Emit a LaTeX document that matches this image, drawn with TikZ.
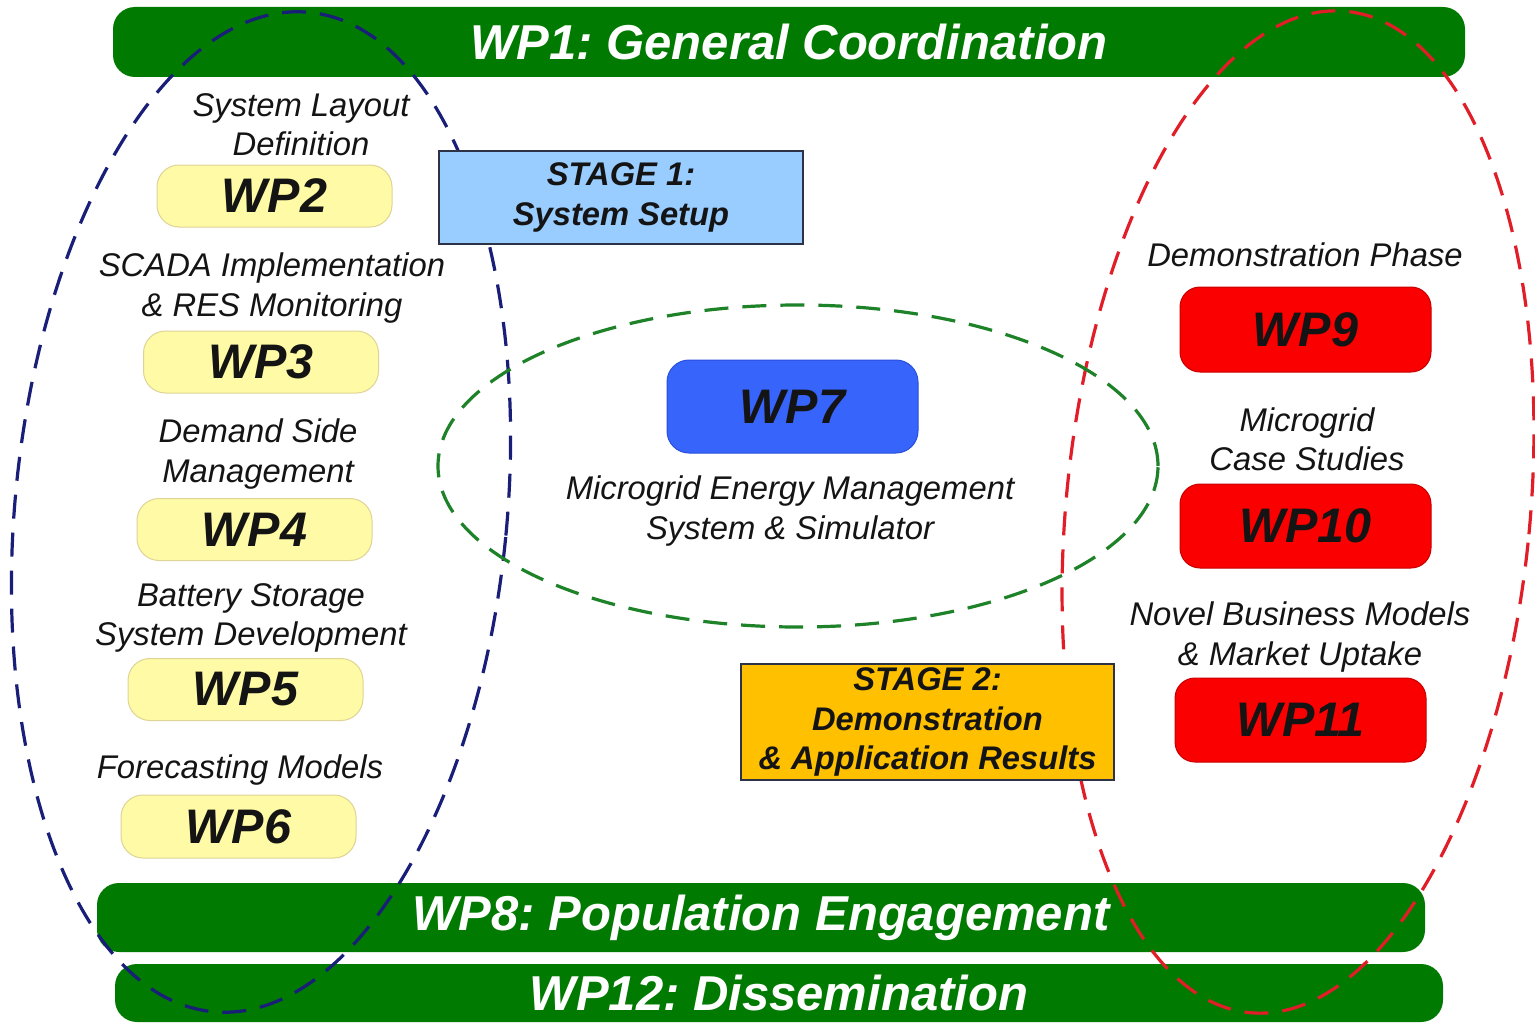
\documentclass[tikz,border=0pt]{standalone}
\usepackage{fontspec}
\setmainfont{Liberation Sans}
\frenchspacing
\definecolor{barg}{RGB}{0,122,0}
\definecolor{ylw}{RGB}{255,250,165}
\definecolor{ylwb}{RGB}{222,212,150}
\definecolor{redf}{RGB}{250,0,0}
\definecolor{redb}{RGB}{200,0,0}
\definecolor{wpblue}{RGB}{55,100,250}
\definecolor{wpblueb}{RGB}{40,80,220}
\definecolor{stageblue}{RGB}{153,204,255}
\definecolor{stageamber}{RGB}{255,192,0}
\definecolor{stageb}{RGB}{45,50,70}
\definecolor{ellblue}{RGB}{25,30,120}
\definecolor{ellred}{RGB}{225,30,40}
\definecolor{ellgreen}{RGB}{30,130,40}
\definecolor{txt}{RGB}{20,20,20}
\begin{document}
\begin{tikzpicture}[x=1pt,y=-1pt,
  bar/.style={fill=barg, rounded corners=22pt, inner sep=0pt, text=white,
    font=\fontsize{49}{55}\selectfont\bfseries\itshape},
  ybox/.style={fill=ylw, draw=ylwb, line width=1pt, rounded corners=22pt,
    minimum width=235pt, minimum height=62pt, inner sep=0pt, text=txt,
    font=\fontsize{48.5}{55}\selectfont\bfseries\itshape},
  rbox/.style={fill=redf, draw=redb, line width=1pt, rounded corners=20pt,
    minimum width=251pt, minimum height=85pt, inner sep=0pt, text=txt,
    font=\fontsize{48.5}{55}\selectfont\bfseries\itshape},
  lbl/.style={align=center, inner sep=0pt, text=txt,
    font=\fontsize{32.8}{39.3}\selectfont\itshape},
  stagebox/.style={draw=stageb, line width=1.6pt, align=center, inner sep=0pt, text=txt,
    font=\fontsize{32.7}{39.5}\selectfont\bfseries\itshape},
  ell/.style={line width=3.2pt, dash pattern=on 24pt off 14pt}
]
\useasboundingbox (0,0) rectangle (1535,1025);
\fill[white] (0,0) rectangle (1535,1025);

% bars
\node[bar, minimum width=1352pt, minimum height=70pt] (wp1) at (789,42) {WP1: General Coordination};
\node[bar, minimum width=1328pt, minimum height=69pt] (wp8) at (761,917.5) {WP8: Population Engagement};
\node[bar, minimum width=1328pt, minimum height=58pt] (wp12) at (779,993) {WP12: Dissemination};

% ellipses
\draw[ell, draw=ellblue, rotate around={-5.5:(261,512)}] (261,512) ellipse [x radius=246pt, y radius=502pt];
\draw[ell, draw=ellred, rotate around={-5.5:(1298,512)}] (1298,512) ellipse [x radius=232pt, y radius=503pt];
\draw[ell, draw=ellgreen] (798,466) ellipse [x radius=360pt, y radius=161pt];

% left column
\node[lbl] (l2) at (301,125) {System Layout\\Definition};
\node[ybox] (wp2) at (274.5,196) {WP2};
\node[lbl] (l3) at (272,288) {SCADA Implementation\\\& RES Monitoring};
\node[ybox] (wp3) at (261,362) {WP3};
\node[lbl] (l4) at (258,454) {Demand Side\\Management};
\node[ybox] (wp4) at (254.5,529.5) {WP4};
\node[lbl] (l5) at (251,618) {Battery Storage\\System Development};
\node[ybox] (wp5) at (245.5,689.5) {WP5};
\node[lbl] (l6) at (240,770) {Forecasting Models};
\node[ybox, minimum height=63pt] (wp6) at (238.5,826.5) {WP6};

% center
\node[fill=wpblue, draw=wpblueb, line width=1pt, rounded corners=22pt, minimum width=251pt,
  minimum height=93pt, inner sep=0pt, text=txt, font=\fontsize{48.5}{55}\selectfont\bfseries\itshape]
  (wp7) at (792.5,406.5) {WP7};
\node[lbl] (l7) at (790,511) {Microgrid Energy Management\\System \& Simulator};

% stages
\node[stagebox, fill=stageblue, minimum width=364pt, minimum height=93pt] (s1) at (621,197.5) {\raisebox{-2pt}{STAGE 1:}\\\raisebox{-2pt}{System Setup}};
\node[stagebox, fill=stageamber, minimum width=373pt, minimum height=116pt] (s2) at (927.5,722) {\raisebox{-2pt}{STAGE 2:}\\\raisebox{-2pt}{Demonstration}\\\raisebox{-2pt}{\& Application Results}};

% right column
\node[lbl] (l9) at (1305,255) {Demonstration Phase};
\node[rbox] (wp9) at (1305.5,329.5) {WP9};
\node[lbl] (l10) at (1307,439) {Microgrid\\Case Studies};
\node[rbox, minimum height=84pt] (wp10) at (1305.5,526) {WP10};
\node[lbl] (l11) at (1300,637) {Novel Business Models\\\& Market Uptake};
\node[rbox, minimum height=84pt] (wp11) at (1300.5,720) {WP11};
\end{tikzpicture}
\end{document}
